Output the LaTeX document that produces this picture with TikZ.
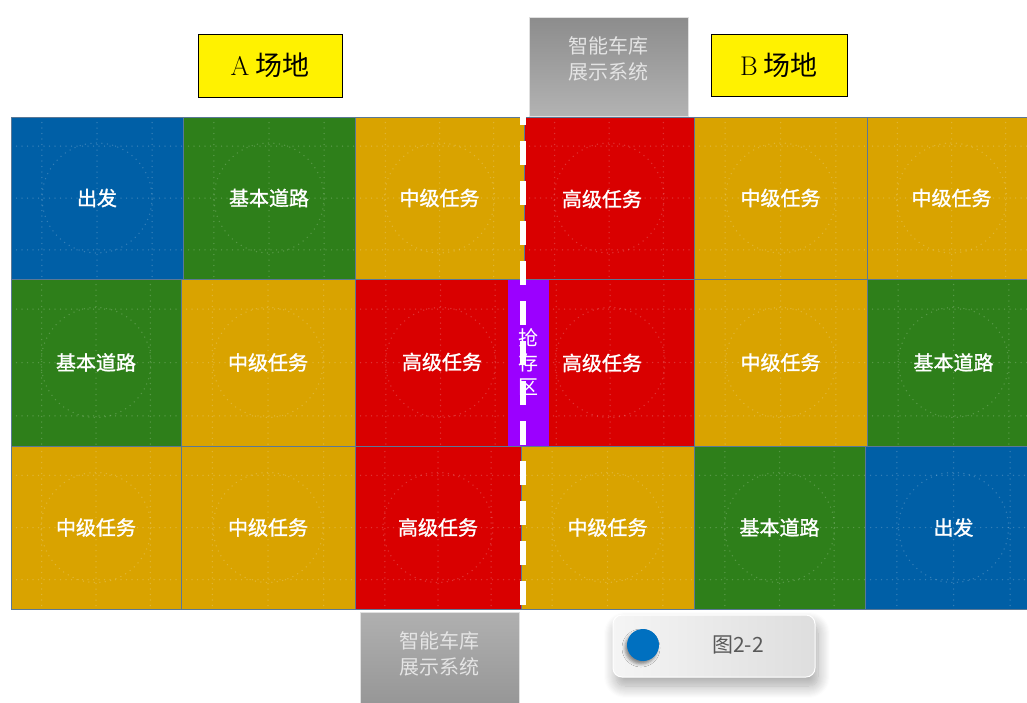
\documentclass[tikz,border=0pt]{standalone}
\usepackage{fontspec}
\newfontfamily\cjk{Noto Sans CJK SC}
\newfontfamily\cjkm[FakeBold=1.3]{Noto Sans CJK SC}
\usetikzlibrary{calc,shadows,shadows.blur}
\definecolor{tblue}{HTML}{005FA6}
\definecolor{tgreen}{HTML}{2E7F1A}
\definecolor{tgold}{HTML}{D9A300}
\definecolor{tred}{HTML}{D90000}
\definecolor{tpurple}{HTML}{9B00FF}
\definecolor{tedge}{HTML}{5A7896}
\definecolor{capgray}{HTML}{595959}
\definecolor{systxt}{HTML}{E4E4E4}
\tikzset{
  patt/.style={draw=white, opacity=0.2, line width=1.5pt, dash pattern=on 0pt off 5.5pt, line cap=round},
  tile/.style={draw=tedge, line width=0.6pt, inner sep=0pt, text=white,
    font=\cjkm\fontsize{20}{24}\selectfont,
    path picture={
      \foreach \f in {0.18,0.5,0.82}{
        \draw[patt] ($(path picture bounding box.north west)!\f!(path picture bounding box.north east)$) -- ($(path picture bounding box.south west)!\f!(path picture bounding box.south east)$);
        \draw[patt] ($(path picture bounding box.north west)!\f!(path picture bounding box.south west)$) -- ($(path picture bounding box.north east)!\f!(path picture bounding box.south east)$);
      }
      \draw[patt] (path picture bounding box.center) circle[radius=55];
    }},
  tiletext/.style={text=white, inner sep=0pt, font=\cjkm\fontsize{20}{24}\selectfont},
  fieldbox/.style={fill=yellow, draw=black, line width=1pt, inner sep=0pt,
    font=\cjk\fontsize{27}{30}\selectfont},
  sysbox/.style={draw=black!12, line width=0.8pt, inner sep=0pt},
  systext/.style={text=systxt, align=center, font=\cjk\fontsize{20}{26}\selectfont},
  dashline/.style={draw=white, line width=6pt, dash pattern=on 24pt off 16pt},
  widget/.style={rounded corners=9pt, left color=black!4, right color=black!13, draw=white, line width=1pt,
    blur shadow={shadow xshift=3pt, shadow yshift=-9pt, shadow blur radius=12pt, shadow blur steps=12, shadow opacity=35}},
}
\newcommand\tilebox[7]{\node[tile, fill=#6, minimum width={(#4-#2)*1pt}, minimum height={(#5-#3)*1pt}] (#1) at ({(#2+#4)/2},{(#3+#5)/2}) {#7};}
\begin{document}
\begin{tikzpicture}[x=1pt,y=-1pt]
\useasboundingbox (0,0) rectangle (1027,702);
\clip (0,0) rectangle (1027,702);
% row 1
\tilebox{t11}{11}{117}{183}{279}{tblue}{出发}
\tilebox{t12}{183}{117}{355}{279}{tgreen}{基本道路}
\tilebox{t13}{355}{117}{524}{279}{tgold}{中级任务}
\tilebox{t14}{524}{117}{694}{279}{tred}{}
\node[tiletext] (t14txt) at (602,199) {高级任务};
\tilebox{t15}{694}{117}{867}{279}{tgold}{中级任务}
\tilebox{t16}{867}{117}{1036}{279}{tgold}{中级任务}
% row 2
\tilebox{t21}{11}{279}{181}{446}{tgreen}{基本道路}
\tilebox{t22}{181}{279}{355}{446}{tgold}{中级任务}
\tilebox{t23}{355}{279}{526}{446}{tred}{}
\tilebox{t24}{526}{279}{694}{446}{tred}{}
\tilebox{t25}{694}{279}{867}{446}{tgold}{中级任务}
\tilebox{t26}{867}{279}{1040}{446}{tgreen}{基本道路}
% row 3
\tilebox{t31}{11}{446}{181}{609}{tgold}{中级任务}
\tilebox{t32}{181}{446}{355}{609}{tgold}{中级任务}
\tilebox{t33}{355}{446}{521}{609}{tred}{高级任务}
\tilebox{t34}{521}{446}{694}{609}{tgold}{中级任务}
\tilebox{t35}{694}{446}{865}{609}{tgreen}{基本道路}
\tilebox{t36}{865}{446}{1042}{609}{tblue}{出发}
% grab zone
\node[fill=tpurple, inner sep=0pt, minimum width=41pt, minimum height=166pt] (grab) at (528.5,362.5) {};
\node[tiletext] (t23txt) at (442,362) {高级任务};
\node[tiletext] (t24txt) at (602,363) {高级任务};
% dashed divider
\coordinate (divtop) at (522.5,101);
\coordinate (divbot) at (522.5,630);
\draw[dashline] (divtop) -- (divbot);
\node[text=white, align=center, inner sep=0pt, font=\cjk\fontsize{20}{24.5}\selectfont] (grabtxt) at (grab.center) {抢\\存\\区};
% field labels
\node[fieldbox, minimum width=144pt, minimum height=63pt] (fieldA) at (270,65.5) {{\rmfamily A}~场地};
\node[fieldbox, minimum width=136pt, minimum height=62pt] (fieldB) at (779,65) {{\rmfamily B}~场地};
% garage display systems
\node[sysbox, top color=black!45, bottom color=black!30, minimum width=159pt, minimum height=99pt] (sysA) at (608.5,66.5) {};
\node[systext] (sysAtxt) at (608,59) {智能车库\\展示系统};
\node[sysbox, top color=black!31, bottom color=black!41, minimum width=159pt, minimum height=92pt] (sysB) at (439.5,658) {};
\node[systext] (sysBtxt) at (439.5,654) {智能车库\\展示系统};
% caption widget
\node[widget, minimum width=202pt, minimum height=62pt] (fig) at (714,646) {};
\node[circle, fill={rgb,255:red,0;green,112;blue,192}, minimum size=32pt, inner sep=0pt,
  blur shadow={shadow xshift=-2pt, shadow yshift=-3pt, shadow blur radius=3pt, shadow opacity=45}] (dot) at (643,645) {};
\node[text=capgray, font=\cjk\fontsize{21}{24}\selectfont, inner sep=0pt] (cap) at (738,645) {图2-2};
\end{tikzpicture}
\end{document}
